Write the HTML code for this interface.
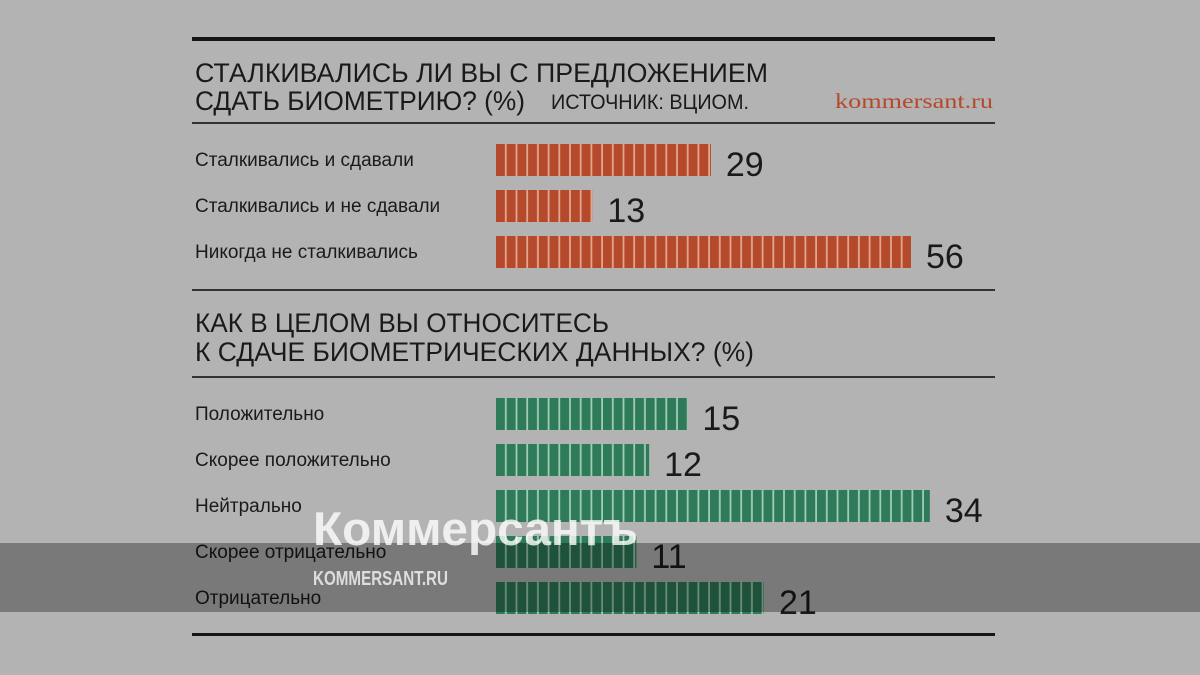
<!DOCTYPE html>
<html><head><meta charset="utf-8"><style>
html,body{margin:0;padding:0;background:#b3b3b3;width:1200px;height:675px;overflow:hidden}
svg{display:block;font-family:"Liberation Sans Narrow","Liberation Sans",sans-serif}
</style></head><body>
<svg id="chart" width="1200" height="675" viewBox="0 0 1200 675">
<defs>
<pattern id="segR" width="10.7" height="40" patternUnits="userSpaceOnUse" x="496"><rect width="10.7" height="40" fill="#e3a68c"/><rect x="0" width="8.9" height="40" fill="#b4492b"/></pattern>
<pattern id="segG" width="10.7" height="40" patternUnits="userSpaceOnUse" x="496"><rect width="10.7" height="40" fill="#9fcdb6"/><rect x="0" width="8.9" height="40" fill="#2f7a58"/></pattern>
</defs>
<rect x="192" y="37" width="803" height="4" fill="#151515"/>
<text x="195" y="82" font-size="27" fill="#1a1a1a" textLength="573" lengthAdjust="spacingAndGlyphs">СТАЛКИВАЛИСЬ ЛИ ВЫ С ПРЕДЛОЖЕНИЕМ</text>
<text x="195" y="110" font-size="27" fill="#1a1a1a" textLength="330" lengthAdjust="spacingAndGlyphs">СДАТЬ БИОМЕТРИЮ? (%)</text>
<text x="551" y="109" font-size="21" fill="#1a1a1a" textLength="198" lengthAdjust="spacingAndGlyphs">ИСТОЧНИК: ВЦИОМ.</text>
<text x="835" y="108" font-size="21" fill="#b4492b" font-family="Liberation Serif,serif" textLength="158" lengthAdjust="spacingAndGlyphs">kommersant.ru</text>
<rect x="192" y="122" width="803" height="2" fill="#333"/>
<rect x="192" y="289" width="803" height="2" fill="#333"/>
<text x="195" y="332" font-size="27" fill="#1a1a1a" textLength="414" lengthAdjust="spacingAndGlyphs">КАК В ЦЕЛОМ ВЫ ОТНОСИТЕСЬ</text>
<text x="195" y="361" font-size="27" fill="#1a1a1a" textLength="559" lengthAdjust="spacingAndGlyphs">К СДАЧЕ БИОМЕТРИЧЕСКИХ ДАННЫХ? (%)</text>
<rect x="192" y="376" width="803" height="2" fill="#333"/>
<rect x="192" y="633" width="803" height="3" fill="#151515"/>
<g id="bars"></g>
<rect x="0" y="543" width="1200" height="69" fill="#000" opacity="0.32"/>
<text x="313" y="545" font-size="47" font-weight="bold" font-family="Liberation Sans,sans-serif" fill="#fff" opacity="0.8" textLength="325" lengthAdjust="spacingAndGlyphs">Коммерсантъ</text>
<text x="313" y="585" font-size="20" font-weight="bold" font-family="Liberation Sans Narrow,Liberation Sans,sans-serif" fill="#fff" opacity="0.75" textLength="135" lengthAdjust="spacingAndGlyphs">KOMMERSANT.RU</text>
</svg>
<script>
const cats1 = ["Сталкивались и сдавали","Сталкивались и не сдавали","Никогда не сталкивались"];
const vals1 = [29,13,56];
const cats2 = ["Положительно","Скорее положительно","Нейтрально","Скорее отрицательно","Отрицательно"];
const vals2 = [15,12,34,11,21];
const NS="http://www.w3.org/2000/svg";
const g=document.getElementById('bars');
const x1=v=>v*7.41, x2=v=>v*12.76;
function draw(cats,vals,scale,y0,step,fill,key){
  cats.forEach((c,i)=>{
    const cy=y0+i*step;
    const t=document.createElementNS(NS,'text');
    t.setAttribute('x',195);t.setAttribute('y',cy+6);t.setAttribute('font-size',19);t.setAttribute('fill','#1a1a1a');
    t.setAttribute('font-family','Liberation Sans,sans-serif');
    t.textContent=c;
    
    
    g.appendChild(t);
    const r=document.createElementNS(NS,'rect');
    const w=scale(vals[i]);
    r.setAttribute('x',496);r.setAttribute('y',cy-16);r.setAttribute('width',w);r.setAttribute('height',32);r.setAttribute('fill',fill);
    
    
    g.appendChild(r);
    const v=document.createElementNS(NS,'text');
    v.setAttribute('x',496+w+15);v.setAttribute('y',cy+16);v.setAttribute('font-size',34);v.setAttribute('fill','#1a1a1a');
    v.setAttribute('font-family','Liberation Sans,sans-serif');
    v.textContent=vals[i];
    
    
    g.appendChild(v);
  });
}
draw(cats1,vals1,x1,160,46,'url(#segR)','q1');
draw(cats2,vals2,x2,414,46,'url(#segG)','q2');
</script>
</body></html>
